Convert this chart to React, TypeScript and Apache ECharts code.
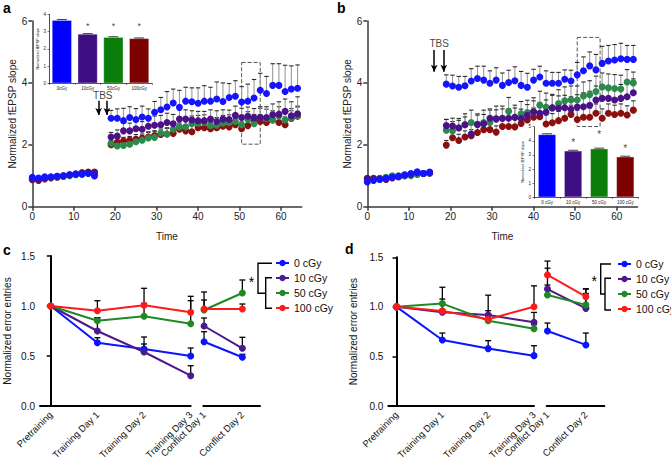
import React, { useEffect, useRef } from 'react';
import * as echarts from 'echarts';

const FONT = '"Liberation Sans", Arial, Helvetica, sans-serif';

// ---------- Panels a / b : time courses ----------
const baseTimes = [0, 1.5, 3, 4.5, 6, 7.5, 9, 10.5, 12, 13.5, 15];
const postTimes = [19, 20.5, 22, 23.5, 25, 26.5, 28, 29.5, 31, 32.5, 34, 35.5, 37, 38.5, 40, 41.5, 43, 44.5, 46, 47.5, 49, 50.5, 52, 53.5, 55, 56.5, 58, 59.5, 61, 62.5, 64];
const timeTicks = [0, 10, 20, 30, 40, 50, 60];

const aBlueBase = [0.95, 0.93, 0.97, 0.97, 0.98, 1.0, 1.03, 1.06, 1.05, 1.07, 0.99];
const aPurpleBase = [0.9, 0.88, 0.92, 0.95, 0.98, 1.0, 1.03, 1.05, 1.08, 1.1, 1.1];
const aGreenBase = [0.92, 0.9, 0.93, 0.95, 0.95, 0.98, 1.0, 1.03, 1.05, 1.08, 1.05];
const aRedBase = [0.87, 0.85, 0.9, 0.93, 0.95, 0.98, 1.02, 1.05, 1.1, 1.12, 1.12];

const aBlue = [2.86, 2.86, 2.78, 2.88, 2.82, 2.9, 2.86, 3.05, 3.13, 3.22, 3.35, 3.21, 3.41, 3.39, 3.34, 3.41, 3.41, 3.48, 3.4, 3.53, 3.57, 3.38, 3.41, 3.51, 3.76, 3.66, 3.92, 3.92, 3.72, 3.8, 3.83];
const aPurple = [2.25, 2.28, 2.45, 2.45, 2.52, 2.5, 2.6, 2.63, 2.65, 2.72, 2.68, 2.83, 2.83, 2.8, 2.78, 2.78, 2.83, 2.75, 2.83, 2.82, 2.95, 2.88, 2.92, 2.87, 2.88, 2.88, 2.97, 2.99, 3.08, 2.94, 3.0];
const aGreen = [2.05, 1.96, 1.98, 2.02, 2.1, 2.15, 2.22, 2.24, 2.38, 2.35, 2.5, 2.58, 2.58, 2.68, 2.7, 2.72, 2.62, 2.63, 2.7, 2.72, 2.75, 2.65, 2.82, 2.68, 2.88, 2.85, 2.8, 2.93, 2.8, 2.87, 2.95];
const aRed = [2.0, 2.08, 2.12, 2.15, 2.18, 2.2, 2.25, 2.3, 2.33, 2.35, 2.37, 2.5, 2.45, 2.42, 2.55, 2.55, 2.52, 2.55, 2.6, 2.58, 2.65, 2.52, 2.62, 2.75, 2.75, 2.72, 2.8, 2.72, 2.65, 2.85, 2.92];
const aBlueErr = [0.25, 0.3, 0.4, 0.35, 0.35, 0.35, 0.3, 0.35, 0.4, 0.5, 0.45, 0.55, 0.45, 0.45, 0.5, 0.5, 0.45, 0.55, 0.6, 0.45, 0.5, 0.5, 0.55, 0.6, 0.55, 0.55, 0.7, 0.7, 0.85, 0.75, 0.75];
const aPurpleErr = [0.15, 0.2, 0.25, 0.25, 0.25, 0.25, 0.25, 0.3, 0.3, 0.3, 0.3, 0.3, 0.3, 0.3, 0.3, 0.3, 0.3, 0.35, 0.3, 0.3, 0.3, 0.3, 0.3, 0.3, 0.35, 0.35, 0.35, 0.4, 0.4, 0.45, 0.55];
const aGreenErr = [0.1, 0.1, 0.12, 0.12, 0.15, 0.15, 0.2, 0.2, 0.2, 0.2, 0.25, 0.25, 0.25, 0.25, 0.25, 0.25, 0.25, 0.25, 0.25, 0.25, 0.25, 0.3, 0.25, 0.3, 0.3, 0.3, 0.3, 0.3, 0.3, 0.3, 0.3];
const aRedErr = [0.1, 0.12, 0.12, 0.12, 0.15, 0.15, 0.15, 0.15, 0.18, 0.18, 0.18, 0.2, 0.2, 0.2, 0.2, 0.2, 0.2, 0.2, 0.2, 0.2, 0.2, 0.22, 0.22, 0.22, 0.22, 0.22, 0.25, 0.25, 0.25, 0.25, 0.3];

const bBlueBase = [0.8, 0.85, 0.88, 0.92, 0.95, 0.97, 1.02, 1.07, 1.13, 1.07, 1.12];
const bPurpleBase = [0.92, 0.9, 0.9, 0.9, 0.95, 0.98, 1.03, 1.05, 1.1, 1.07, 1.1];
const bGreenBase = [0.9, 0.9, 0.92, 0.95, 1.0, 1.0, 1.0, 1.0, 1.05, 1.07, 1.08];
const bRedBase = [0.9, 0.92, 0.9, 0.88, 0.93, 0.97, 1.0, 1.05, 1.05, 1.07, 1.08];

const bBlue = [3.96, 3.9, 3.86, 3.91, 4.06, 4.14, 4.09, 3.99, 4.09, 3.92, 4.01, 4.07, 3.92, 3.86, 4.09, 4.19, 3.99, 3.99, 3.99, 4.12, 4.06, 4.26, 4.39, 4.55, 4.42, 4.63, 4.71, 4.74, 4.78, 4.76, 4.76];
const bPurple = [2.62, 2.61, 2.54, 2.65, 2.35, 2.66, 2.68, 2.86, 2.83, 2.86, 2.86, 2.89, 2.85, 2.95, 3.07, 3.02, 3.05, 3.2, 3.18, 3.2, 3.15, 3.22, 3.23, 3.28, 3.45, 3.5, 3.5, 3.45, 3.5, 3.55, 3.68];
const bGreen = [2.47, 2.45, 2.55, 2.65, 2.72, 2.65, 2.72, 2.72, 2.85, 2.85, 3.08, 2.88, 3.0, 3.04, 3.07, 3.28, 3.22, 3.18, 3.33, 3.42, 3.45, 3.45, 3.58, 3.62, 3.72, 3.87, 3.84, 3.82, 3.8, 4.03, 4.0];
const bRed = [1.99, 2.23, 2.14, 2.25, 2.29, 2.4, 2.49, 2.49, 2.41, 2.59, 2.59, 2.58, 2.69, 2.8, 2.89, 2.91, 2.67, 2.71, 2.78, 2.86, 2.98, 2.82, 2.89, 2.89, 3.02, 2.86, 3.02, 2.98, 3.02, 2.96, 3.12];
const bBlueErr = [0.3, 0.35, 0.35, 0.3, 0.4, 0.4, 0.45, 0.4, 0.4, 0.4, 0.4, 0.45, 0.45, 0.45, 0.35, 0.35, 0.4, 0.35, 0.35, 0.3, 0.35, 0.4, 0.45, 0.45, 0.5, 0.55, 0.5, 0.5, 0.5, 0.45, 0.45];
const bPurpleErr = [0.2, 0.25, 0.25, 0.25, 0.3, 0.3, 0.3, 0.3, 0.3, 0.3, 0.3, 0.3, 0.3, 0.35, 0.35, 0.35, 0.4, 0.4, 0.4, 0.4, 0.4, 0.4, 0.45, 0.45, 0.45, 0.45, 0.4, 0.4, 0.45, 0.45, 0.45];
const bGreenErr = [0.35, 0.3, 0.3, 0.35, 0.4, 0.35, 0.4, 0.4, 0.4, 0.4, 0.45, 0.4, 0.4, 0.4, 0.45, 0.45, 0.45, 0.45, 0.45, 0.45, 0.45, 0.45, 0.45, 0.45, 0.5, 0.45, 0.45, 0.45, 0.45, 0.4, 0.35];
const bRedErr = [0.15, 0.2, 0.2, 0.2, 0.2, 0.2, 0.2, 0.2, 0.2, 0.2, 0.25, 0.25, 0.25, 0.3, 0.3, 0.3, 0.3, 0.3, 0.3, 0.3, 0.3, 0.3, 0.3, 0.3, 0.3, 0.3, 0.3, 0.3, 0.3, 0.3, 0.3];

// insets
const aInsetCats = ['0cGy', '10cGy', '50cGy', '100cGy'];
const aInsetVals = [3.67, 2.86, 2.68, 2.61];
const aInsetErr = [0.03, 0.02, 0.02, 0.02];
const aInsetStars = [null, 3.3, 3.3, 3.3];
const bInsetCats = ['0 cGy', '10 cGy', '50 cGy', '100 cGy'];
const bInsetVals = [4.46, 3.3, 3.45, 2.88];
const bInsetErr = [0.04, 0.03, 0.03, 0.03];
const bInsetStars = [null, 3.85, 4.42, 3.45];

// ---------- Panels c / d : error entries ----------
const trainCats = ['Pretraining', 'Training Day 1', 'Training Day 2', 'Training Day 3'];
const conflictCats = ['Conflict Day 1', 'Conflict Day 2'];
const doseNames = ['0 cGy', '10 cGy', '50 cGy', '100 cGy'];

const c0 = [1.0, 0.633, 0.57, 0.5, 0.643, 0.487];
const c10 = [1.0, 0.75, 0.54, 0.303, 0.8, 0.577];
const c50 = [1.0, 0.853, 0.897, 0.823, 0.96, 1.13];
const c100 = [1.0, 0.953, 1.007, 0.937, 0.97, 0.97];
const c0Err = [0, 0.05, 0.12, 0.08, 0.1, 0.03];
const c10Err = [0, 0.13, 0.08, 0.1, 0.08, 0.11];
const c50Err = [0, 0.03, 0.13, 0.23, 0.18, 0.13];
const c100Err = [0, 0.1, 0.17, 0.16, 0.09, 0.05];

const d0 = [1.0, 0.666, 0.579, 0.508, 0.757, 0.616];
const d10 = [1.0, 0.945, 0.918, 0.844, 1.18, 0.985];
const d50 = [1.0, 1.033, 0.861, 0.78, 1.12, 1.02];
const d100 = [1.0, 0.959, 0.875, 1.002, 1.322, 1.103];
const d0Err = [0, 0.07, 0.08, 0.1, 0.08, 0.12];
const d10Err = [0, 0.03, 0.2, 0.1, 0.21, 0.15];
const d50Err = [0, 0.165, 0.1, 0.04, 0.1, 0.16];
const d100Err = [0, 0.12, 0.05, 0.21, 0.14, 0.08];

const abColors = ['#1414ff', '#4b1288', '#2b8a4c', '#8c0f0f'];
const insetColors = ['#0000ff', '#3d0f82', '#0b7d0b', '#7d0000'];
const cdColors = ['#0a14ff', '#4b1a8c', '#1f8a24', '#ff1a1a'];

function pairs(xs: number[], ys: number[]) {
  return ys.map((y, i) => [xs[i], y]);
}
function triples(xs: number[], ys: number[], es: number[]) {
  return ys.map((y, i) => [xs[i], y, es[i]]);
}

function errSeries(idx: number, pts: number[][], lineColor: string, capColor: string, capHalf: number, lw: number, z: number) {
  return {
    type: 'custom',
    xAxisIndex: idx,
    yAxisIndex: idx,
    z,
    silent: true,
    data: pts,
    encode: { x: 0, y: 1 },
    renderItem: (params: any, api: any) => {
      const x = api.value(0);
      const y = api.value(1);
      const e = api.value(2);
      if (!e) return { type: 'group', children: [] };
      const p0 = api.coord([x, y]);
      const p1 = api.coord([x, y + e]);
      return {
        type: 'group',
        children: [
          { type: 'line', shape: { x1: p0[0], y1: p0[1], x2: p1[0], y2: p1[1] }, style: { stroke: lineColor, lineWidth: lw } },
          { type: 'line', shape: { x1: p1[0] - capHalf, y1: p1[1], x2: p1[0] + capHalf, y2: p1[1] }, style: { stroke: capColor, lineWidth: lw } },
        ],
      };
    },
  };
}

function labelPoint(idx: number, x: number | string, y: number, text: string, fontSize: number, z = 6) {
  return {
    type: 'scatter',
    xAxisIndex: idx,
    yAxisIndex: idx,
    silent: true,
    z,
    symbolSize: 1,
    itemStyle: { color: 'rgba(0,0,0,0)' },
    data: [[x, y]],
    label: { show: true, position: 'inside', formatter: text, fontSize, color: '#111', fontFamily: FONT },
  };
}

function buildOption() {
  const axisGray = { color: '#3a3a3a', width: 1.5 };
  const timeX = (gi: number) => ({
    gridIndex: gi,
    type: 'value',
    min: 0,
    max: 65,
    axisLine: { lineStyle: axisGray },
    axisTick: { customValues: timeTicks, length: 4, lineStyle: axisGray },
    axisLabel: { customValues: timeTicks, fontSize: 10, color: '#222', margin: 5, fontFamily: FONT },
    splitLine: { show: false },
    name: 'Time',
    nameLocation: 'middle',
    nameGap: 25,
    nameTextStyle: { fontSize: 10, color: '#222', fontFamily: FONT },
  });
  const slopeY = (gi: number) => ({
    gridIndex: gi,
    type: 'value',
    min: 0,
    max: 6,
    interval: 2,
    axisLine: { show: true, lineStyle: axisGray },
    axisTick: { show: true, length: 4, lineStyle: axisGray },
    axisLabel: { fontSize: 10, color: '#222', margin: 5, fontFamily: FONT },
    splitLine: { show: false },
    name: 'Normalized fEPSP slope',
    nameLocation: 'middle',
    nameGap: 14,
    nameTextStyle: { fontSize: 10, color: '#222', fontFamily: FONT },
  });
  const insetX = (gi: number, cats: string[]) => ({
    gridIndex: gi,
    type: 'category',
    data: cats,
    axisLine: { lineStyle: { color: '#222', width: 0.8 } },
    axisTick: { show: true, length: 1.5, lineStyle: { color: '#222', width: 0.6 } },
    axisLabel: { fontSize: 4.5, color: '#222', margin: 3, fontFamily: FONT, interval: 0 },
    splitLine: { show: false },
  });
  const insetY = (gi: number, max: number) => ({
    gridIndex: gi,
    type: 'value',
    min: 0,
    max,
    interval: 1,
    axisLine: { show: true, lineStyle: { color: '#222', width: 0.8 } },
    axisTick: { show: true, length: 1.5, lineStyle: { color: '#222', width: 0.6 } },
    axisLabel: { fontSize: 4.5, color: '#222', margin: 3, fontFamily: FONT },
    splitLine: { show: false },
    name: 'Normalized fEPSP slope',
    nameLocation: 'middle',
    nameGap: 7,
    nameTextStyle: { fontSize: 3.8, color: '#222', fontFamily: FONT },
  });
  const errorsX = (gi: number, min: number, max: number, cats: string[], vals: number[]) => ({
    gridIndex: gi,
    type: 'value',
    min,
    max,
    axisLine: { lineStyle: { color: '#000', width: 2 } },
    axisTick: { show: false },
    axisLabel: {
      customValues: vals,
      formatter: (v: number) => cats[Math.round(v)] ?? '',
      rotate: 45,
      fontSize: 9.5,
      color: '#111',
      margin: 7,
      fontFamily: FONT,
    },
    splitLine: { show: false },
  });
  const errorsY = (gi: number, visible: boolean, gap: number) => ({
    gridIndex: gi,
    type: 'value',
    min: 0,
    max: 1.5,
    interval: 0.5,
    show: visible,
    axisLine: { show: true, lineStyle: { color: '#000', width: 2 } },
    axisTick: { show: true, length: 4, lineStyle: { color: '#000', width: 1.5 } },
    axisLabel: { fontSize: 10, color: '#111', margin: 5, fontFamily: FONT, formatter: (v: number) => v.toFixed(1) },
    splitLine: { show: false },
    name: visible ? 'Normalized error entries' : '',
    nameLocation: 'middle',
    nameGap: gap,
    nameTextStyle: { fontSize: 10, color: '#111', fontFamily: FONT },
  });

  const series: any[] = [];

  // panels a and b
  const panels = [
    {
      idx: 0,
      base: [aBlueBase, aPurpleBase, aGreenBase, aRedBase],
      post: [aBlue, aPurple, aGreen, aRed],
      err: [aBlueErr, aPurpleErr, aGreenErr, aRedErr],
      box: [[50.5, 4.66], [55, 2.02]],
      arrows: [16, 18],
      arrowY: [3.42, 2.96],
      tbs: [17, 3.58],
    },
    {
      idx: 1,
      base: [bBlueBase, bPurpleBase, bGreenBase, bRedBase],
      post: [bBlue, bPurple, bGreen, bRed],
      err: [bBlueErr, bPurpleErr, bGreenErr, bRedErr],
      box: [[50.5, 5.47], [56, 2.59]],
      arrows: [16.1, 18.4],
      arrowY: [5.06, 4.36],
      tbs: [17.3, 5.28],
    },
  ];
  panels.forEach((p) => {
    const order = [3, 2, 1, 0];
    order.forEach((g) => {
      series.push(errSeries(p.idx, triples(postTimes, p.post[g], p.err[g]), '#9a9a9a', '#2a2a2a', 2.2, 1.1, 2));
    });
    order.forEach((g) => {
      const s: any = {
        type: 'scatter',
        name: 'ab-' + p.idx + '-' + g,
        xAxisIndex: p.idx,
        yAxisIndex: p.idx,
        z: 3,
        symbolSize: 7,
        itemStyle: { color: abColors[g], opacity: 1 },
        data: pairs(baseTimes, p.base[g]).concat(pairs(postTimes, p.post[g])),
      };
      if (g === 0) {
        s.markArea = {
          silent: true,
          itemStyle: { color: 'rgba(0,0,0,0)', borderColor: '#555', borderWidth: 1, borderType: 'dashed' },
          data: [[{ coord: p.box[0] }, { coord: p.box[1] }]],
        };
        s.markLine = {
          silent: true,
          symbol: ['none', 'arrow'],
          symbolSize: [5, 7],
          label: { show: false },
          lineStyle: { color: '#000', width: 1.5, type: 'solid' },
          data: p.arrows.map((t) => [{ coord: [t, p.arrowY[0]] }, { coord: [t, p.arrowY[1]] }]),
        };
      }
      series.push(s);
    });
    series.push(labelPoint(p.idx, p.tbs[0], p.tbs[1], 'TBS', 10));
  });

  // insets
  [
    { idx: 2, cats: aInsetCats, vals: aInsetVals, err: aInsetErr, stars: aInsetStars, bw: 20, star: 9 },
    { idx: 3, cats: bInsetCats, vals: bInsetVals, err: bInsetErr, stars: bInsetStars, bw: 18, star: 10 },
  ].forEach((ins) => {
    series.push({
      type: 'bar',
      xAxisIndex: ins.idx,
      yAxisIndex: ins.idx,
      z: 5,
      barWidth: ins.bw,
      silent: true,
      data: ins.vals.map((v, i) => ({ value: v, itemStyle: { color: insetColors[i], borderColor: 'rgba(255,255,255,0.35)', borderWidth: 0.8 } })),
    });
    series.push(errSeries(ins.idx, ins.cats.map((c, i) => [i, ins.vals[i], ins.err[i]]), '#111', '#111', 5, 0.8, 6));
    ins.stars.forEach((s, i) => {
      if (s !== null) series.push(labelPoint(ins.idx, ins.cats[i], s as number, '*', ins.star, 7));
    });
  });

  // panels c and d
  const cd = [
    { t: 4, c: 5, vals: [c0, c10, c50, c100], err: [c0Err, c10Err, c50Err, c100Err], tMin: -0.23, cMin: -0.02 },
    { t: 6, c: 7, vals: [d0, d10, d50, d100], err: [d0Err, d10Err, d50Err, d100Err], tMin: -0.18, cMin: -0.02 },
  ];
  const tx = [0, 1, 2, 3];
  const cx = [0, 1];
  cd.forEach((p) => {
    p.vals.forEach((v, g) => {
      series.push(errSeries(p.t, triples(tx, v.slice(0, 4), p.err[g].slice(0, 4)), '#000', '#000', 3, 1.3, 2));
      series.push(errSeries(p.c, triples(cx, v.slice(4), p.err[g].slice(4)), '#000', '#000', 3, 1.3, 2));
    });
    p.vals.forEach((v, g) => {
      const common = {
        type: 'line',
        name: doseNames[g],
        z: 3,
        clip: false,
        symbol: 'circle',
        symbolSize: 7,
        showSymbol: true,
        lineStyle: { color: cdColors[g], width: 2 },
        itemStyle: { color: cdColors[g] },
      };
      const s1: any = { ...common, xAxisIndex: p.t, yAxisIndex: p.t, data: pairs(tx, v.slice(0, 4)) };
      const s2: any = { ...common, xAxisIndex: p.c, yAxisIndex: p.c, data: pairs(cx, v.slice(4)) };
      if (g === 0) {
        const ml = (x: number) => ({
          silent: true,
          symbol: ['none', 'none'],
          label: { show: false },
          lineStyle: { color: '#000', width: 2, type: 'solid' },
          data: [[{ coord: [x, -0.045] }, { coord: [x, 0.045] }]],
        });
        s1.markLine = ml(3);
        s2.markLine = ml(p.cMin);
      }
      series.push(s1, s2);
    });
  });

  const legendBase = {
    data: doseNames,
    orient: 'vertical',
    itemWidth: 13,
    itemHeight: 8,
    itemGap: 3,
    padding: 0,
    selectedMode: false,
    textStyle: { fontSize: 10.5, color: '#111', fontFamily: FONT, lineHeight: 12 },
  };

  const lineSt = { stroke: '#000', lineWidth: 1.4, fill: 'none' };
  const letter = (x: number, y: number, t: string) => ({
    type: 'text',
    x,
    y,
    style: { text: t, fontSize: 14, fontWeight: 'bold', fill: '#000', fontFamily: FONT, verticalAlign: 'top' },
  });

  return {
    animation: false,
    backgroundColor: '#fff',
    textStyle: { fontFamily: FONT },
    grid: [
      { left: 32.3, top: 21, width: 269.4, height: 185.7, outerBoundsMode: 'none' },
      { left: 367.3, top: 21, width: 270.2, height: 185.7, outerBoundsMode: 'none' },
      { left: 49, top: 14.3, width: 103, height: 69, outerBoundsMode: 'none' },
      { left: 534, top: 126.7, width: 104.3, height: 70.6, outerBoundsMode: 'none' },
      { left: 40, top: 256, width: 150.7, height: 150, outerBoundsMode: 'none' },
      { left: 203.3, top: 256, width: 56.7, height: 150, outerBoundsMode: 'none' },
      { left: 388.3, top: 257.3, width: 145.7, height: 148.7, outerBoundsMode: 'none' },
      { left: 546.7, top: 257.3, width: 57.6, height: 148.7, outerBoundsMode: 'none' },
    ],
    xAxis: [
      timeX(0),
      timeX(1),
      insetX(2, aInsetCats),
      insetX(3, bInsetCats),
      errorsX(4, -0.23, 3, trainCats, tx),
      errorsX(5, -0.02, 1.46, conflictCats, cx),
      errorsX(6, -0.18, 3, trainCats, tx),
      errorsX(7, -0.02, 1.48, conflictCats, cx),
    ],
    yAxis: [
      slopeY(0),
      slopeY(1),
      insetY(2, 4),
      insetY(3, 5),
      errorsY(4, true, 28),
      errorsY(5, false, 0),
      errorsY(6, true, 30),
      errorsY(7, false, 0),
    ],
    legend: [
      { ...legendBase, left: 275, top: 257 },
      { ...legendBase, left: 617, top: 258 },
    ],
    graphic: [
      letter(3, 1, 'a'),
      letter(337, 1, 'b'),
      letter(3, 243, 'c'),
      letter(345, 242, 'd'),
      { type: 'polyline', shape: { points: [[272, 263.3], [258, 263.3], [258, 293.3], [265.7, 293.3]] }, style: lineSt },
      { type: 'polyline', shape: { points: [[272, 277.7], [265.7, 277.7], [265.7, 308.3], [272, 308.3]] }, style: lineSt },
      { type: 'text', x: 251.5, y: 282, style: { text: '*', fontSize: 14, fill: '#000', fontFamily: FONT, align: 'center', verticalAlign: 'middle' } },
      { type: 'polyline', shape: { points: [[611, 264], [600.7, 264], [600.7, 294], [605, 294]] }, style: lineSt },
      { type: 'polyline', shape: { points: [[611, 278.3], [605, 278.3], [605, 310], [611, 310]] }, style: lineSt },
      { type: 'text', x: 594.3, y: 281, style: { text: '*', fontSize: 14, fill: '#000', fontFamily: FONT, align: 'center', verticalAlign: 'middle' } },
    ],
    series,
  };
}

export default function App() {
  const ref = useRef<HTMLDivElement>(null);
  useEffect(() => {
    if (!ref.current) return;
    const chart = echarts.init(ref.current, null, { renderer: 'svg' });
    chart.setOption(buildOption() as any);
    return () => chart.dispose();
  }, []);
  return (
    <div
      ref={ref}
      style={{ position: 'fixed', left: 0, top: 0, width: 671, height: 457, background: '#fff' }}
    />
  );
}
